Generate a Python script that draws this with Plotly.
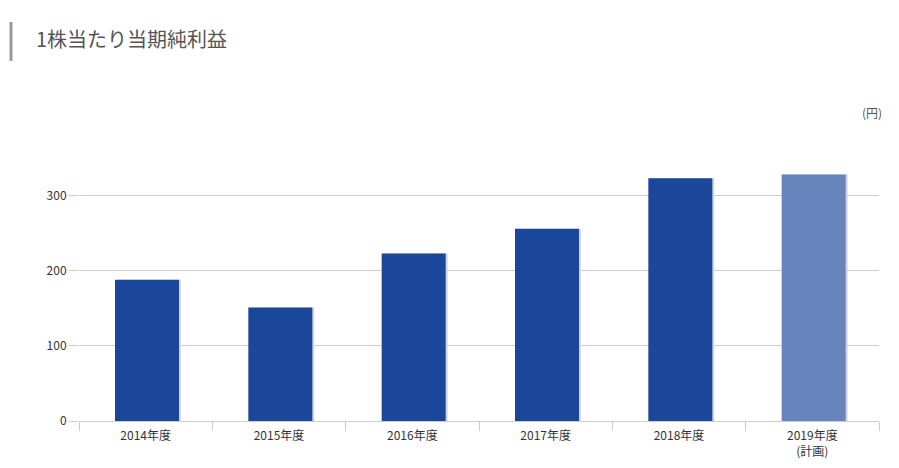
import plotly.graph_objects as go

# 1株当たり当期純利益 (円)
years = ["2014年度", "2015年度", "2016年度", "2017年度", "2018年度", "2019年度<br>(計画)"]
eps_values = [188, 151, 223, 256, 323, 328]
bar_colors = ["#1a4799", "#1a4799", "#1a4799", "#1a4799", "#1a4799", "#6784bd"]
y_ticks = [0, 100, 200, 300]

FONT = "Noto Sans CJK JP, Noto Sans, sans-serif"

# page body has an 8px margin, so the figure is drawn 8px in from the window edge
W, H = 891, 460
PLOT_L, PLOT_R, PLOT_T, PLOT_B = 71, 871, 150, 413

fig = go.Figure()
# soft shadow behind the bars (Highcharts-like)
fig.add_trace(go.Bar(
    x=years, y=eps_values,
    width=0.48, offset=-0.215,
    marker=dict(color="#d6d6d6", line=dict(width=0)),
    hoverinfo="skip", showlegend=False,
))
fig.add_trace(go.Bar(
    x=years, y=eps_values,
    width=0.48, offset=-0.23,
    marker=dict(color=bar_colors, line=dict(width=0)),
    showlegend=False,
))

plot_h = PLOT_B - PLOT_T
plot_w = PLOT_R - PLOT_L

fig.update_layout(
    width=W, height=H,
    barmode="overlay",
    plot_bgcolor="white", paper_bgcolor="white",
    margin=dict(l=PLOT_L, r=W - PLOT_R, t=PLOT_T, b=H - PLOT_B),
    font=dict(family=FONT, size=12, color="#333333"),
    title=dict(
        text="1株当たり当期純利益",
        x=28 / W, y=1 - 32 / H,
        xref="container", yref="container",
        xanchor="left", yanchor="middle",
        font=dict(family=FONT, size=20, color="#555555"),
    ),
    xaxis=dict(
        type="category",
        automargin=False,
        showgrid=False,
        showline=True, linecolor="#cccccc", linewidth=1,
        ticks="outside", tickson="boundaries", ticklen=9, tickcolor="#cccccc",
        ticklabelstandoff=4,
        tickfont=dict(size=12, color="#333333"),
        range=[-0.5, 5.5],
    ),
    yaxis=dict(
        range=[0, 350],
        automargin=False,
        tickvals=y_ticks,
        showgrid=True, gridcolor="#cccccc", gridwidth=1,
        zeroline=False,
        ticks="outside", ticklen=9, tickcolor="#cccccc",
        tickfont=dict(size=12, color="#333333"),
        fixedrange=True,
    ),
    shapes=[
        dict(type="line", xref="paper", yref="paper",
             x0=(3 - PLOT_L) / plot_w, x1=(3 - PLOT_L) / plot_w,
             y0=(PLOT_B - 14) / plot_h, y1=(PLOT_B - 53) / plot_h,
             line=dict(color="#999999", width=3)),
    ],
    annotations=[
        dict(text="(円)", xref="paper", yref="paper",
             x=(876 - PLOT_L) / plot_w, y=(PLOT_B - 104) / plot_h,
             xanchor="right", yanchor="middle",
             showarrow=False, font=dict(size=12, color="#555555")),
    ],
)

fig.write_html("out.html")
